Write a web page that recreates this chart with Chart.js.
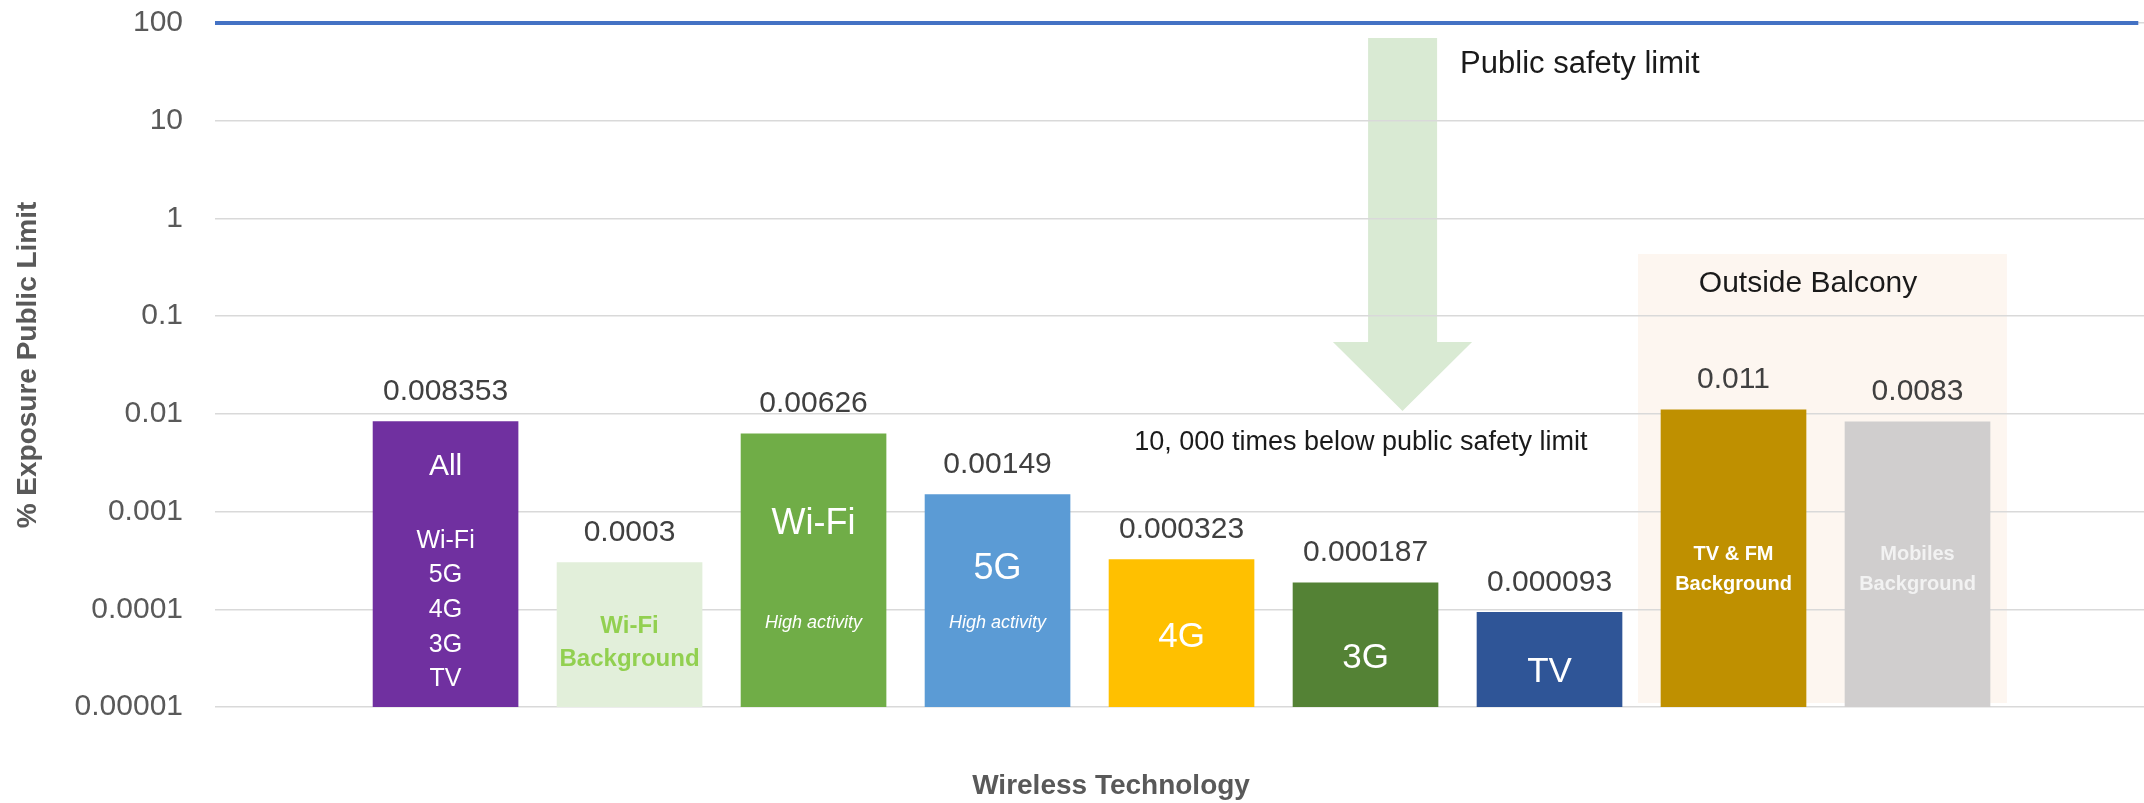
<!DOCTYPE html>
<html>
<head>
<meta charset="utf-8">
<script src="https://cdn.jsdelivr.net/npm/chart.js@4.4.1/dist/chart.umd.min.js"></script>
<style>
  html, body { margin: 0; padding: 0; background: #fff; }
  #wrap { width: 2144px; height: 803px; position: relative; }
</style>
</head>
<body>
<div id="wrap"><canvas id="exposureChart"></canvas></div>
<script>
  // data
  const categories = ['All', 'Wi-Fi Background', 'Wi-Fi', '5G', '4G', '3G', 'TV', 'TV & FM Background', 'Mobiles Background'];
  const exposure = [0.008353, 0.0003, 0.00626, 0.00149, 0.000323, 0.000187, 0.000093, 0.011, 0.0083];
  const yTicks = [0.00001, 0.0001, 0.001, 0.01, 0.1, 1, 10, 100];
  const publicLimit = 100;

  const barColors = ['#7030A0', '#E2EFDA', '#70AD47', '#5B9BD5', '#FFC000', '#548235', '#2F5597', '#BF9000', '#D0CECE'];
  const FONT = '"Liberation Sans", Arial, sans-serif';

  // text written inside the bars: [text, offset from axis bottom, font, colour]
  const innerLines = [
    [['All', -240, '30px'], ['Wi-Fi', -166, '25px'], ['5G', -132, '25px'], ['4G', -97, '25px'], ['3G', -62, '25px'], ['TV', -28, '25px']],
    [['Wi-Fi', -81, 'bold 24px', '#92D050'], ['Background', -48, 'bold 24px', '#92D050']],
    [['Wi-Fi', -183, '36px'], ['High activity', -84, 'italic 18px']],
    [['5G', -138, '36px'], ['High activity', -84, 'italic 18px']],
    [['4G', -70, '35px']],
    [['3G', -49, '35px']],
    [['TV', -35, '35px']],
    [['TV & FM', -153, 'bold 20px'], ['Background', -123, 'bold 20px']],
    [['Mobiles', -153, 'bold 20px', '#F2F2F2'], ['Background', -123, 'bold 20px', '#F2F2F2']]
  ];

  const annotate = {
    id: 'annotate',
    beforeDraw(chart) {
      const {ctx, scales: {x, y}} = chart;
      ctx.save();
      // "outside balcony" panel
      const bx0 = x.getPixelForValue(7.481), bx1 = x.getPixelForValue(9.486);
      const by0 = y.getPixelForValue(0.432), by1 = y.getPixelForValue(0.000011);
      ctx.fillStyle = '#FDF6F0';
      ctx.fillRect(bx0, by0, bx1 - bx0, by1 - by0);
      // big down arrow
      const top = y.getPixelForValue(70.2), neck = y.getPixelForValue(0.0543), tip = y.getPixelForValue(0.01069);
      ctx.fillStyle = '#D9EAD3';
      ctx.beginPath();
      ctx.moveTo(x.getPixelForValue(6.014), top);
      ctx.lineTo(x.getPixelForValue(6.389), top);
      ctx.lineTo(x.getPixelForValue(6.389), neck);
      ctx.lineTo(x.getPixelForValue(6.579), neck);
      ctx.lineTo(x.getPixelForValue(6.201), tip);
      ctx.lineTo(x.getPixelForValue(5.823), neck);
      ctx.lineTo(x.getPixelForValue(6.014), neck);
      ctx.closePath();
      ctx.fill();
      ctx.restore();
    },
    afterDraw(chart) {
      const {ctx, chartArea, scales: {x, y}} = chart;
      const bars = chart.getDatasetMeta(0).data;
      ctx.save();
      ctx.textAlign = 'center';
      ctx.textBaseline = 'middle';

      // values above bars
      ctx.font = '30px ' + FONT;
      ctx.fillStyle = '#404040';
      bars.forEach((b, i) => ctx.fillText(String(exposure[i]), b.x, b.y - 30));

      // text inside bars
      bars.forEach((b, i) => {
        innerLines[i].forEach(([t, dy, f, c]) => {
          ctx.font = f + ' ' + FONT;
          ctx.fillStyle = c || '#FFFFFF';
          ctx.fillText(t, b.x, chartArea.bottom + dy);
        });
      });

      // notes
      ctx.fillStyle = '#1A1A1A';
      ctx.font = '30px ' + FONT;
      ctx.fillText('Outside Balcony', x.getPixelForValue(8.405), y.getPixelForValue(0.213));
      ctx.font = '27px ' + FONT;
      ctx.fillText('10, 000 times below public safety limit', x.getPixelForValue(5.975), y.getPixelForValue(0.00503));
      ctx.textAlign = 'left';
      ctx.font = '31px ' + FONT;
      ctx.fillText('Public safety limit', x.getPixelForValue(6.514), y.getPixelForValue(37.4));

      // x axis title
      ctx.textAlign = 'center';
      ctx.fillStyle = '#595959';
      ctx.font = 'bold 28px ' + FONT;
      ctx.fillText('Wireless Technology', x.getPixelForValue(4.617), chartArea.bottom + 79);
      ctx.restore();
    }
  };

  Chart.defaults.font.family = FONT;

  new Chart(document.getElementById('exposureChart'), {
    type: 'bar',
    data: {
      datasets: [{
        type: 'bar',
        data: categories.map((c, i) => ({x: i + 1, y: exposure[i]})),
        backgroundColor: barColors,
        barThickness: 145
      }, {
        type: 'line',
        data: [{x: -0.253, y: publicLimit}, {x: 10.2, y: publicLimit}],
        borderColor: '#4472C4',
        borderWidth: 4,
        pointRadius: 0,
        clip: false
      }]
    },
    options: {
      responsive: true,
      maintainAspectRatio: false,
      animation: false,
      layout: { padding: { top: 23, right: 0, bottom: 96, left: 0 } },
      plugins: {
        legend: { display: false },
        tooltip: { enabled: false }
      },
      scales: {
        x: {
          type: 'linear',
          min: -0.253,
          max: 10.231,
          offset: false,
          display: false
        },
        y: {
          type: 'logarithmic',
          min: 0.00001,
          max: 100,
          afterBuildTicks: s => { s.ticks = yTicks.map(v => ({value: v})); },
          afterFit: s => { s.width = 215; s.paddingTop = 0; s.paddingBottom = 0; },
          border: { display: false },
          grid: { color: '#D9D9D9', lineWidth: 1.5, drawTicks: false },
          ticks: {
            padding: 32,
            color: '#595959',
            font: { size: 30 },
            callback: v => String(v)
          },
          title: {
            display: true,
            text: '% Exposure Public Limit',
            color: '#595959',
            font: { size: 28, weight: 'bold' },
            padding: { top: 11, bottom: 0 }
          }
        }
      }
    },
    plugins: [annotate]
  });
</script>
</body>
</html>
